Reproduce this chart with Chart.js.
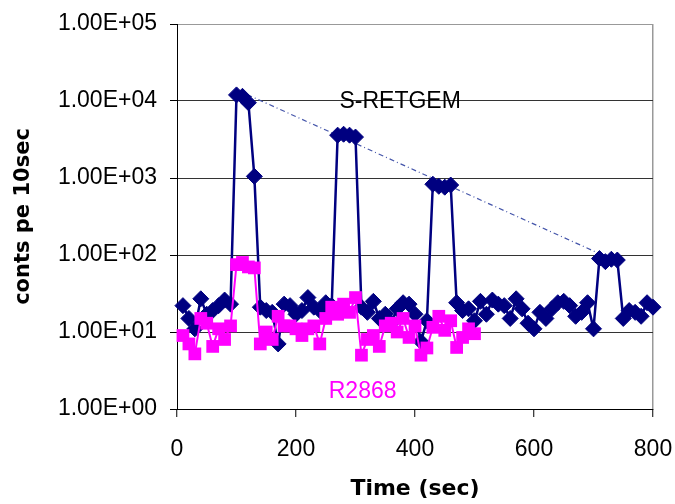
<!DOCTYPE html>
<html><head><meta charset="utf-8">
<script src="https://cdn.jsdelivr.net/npm/chart.js@4/dist/chart.umd.min.js"></script>
<style>html,body{margin:0;padding:0;background:#fff;overflow:hidden}</style>
</head><body>
<canvas id="c" width="675" height="504"></canvas>
<script>
// S-RETGEM: one reading every 10 s, t = 10 .. 800
const retgemTime = [10,20,30,40,50,60,70,80,90,100,110,120,130,140,150,160,170,180,190,200,
  210,220,230,240,250,260,270,280,290,300,310,320,330,340,350,360,370,380,390,400,
  410,420,430,440,450,460,470,480,490,500,510,520,530,540,550,560,570,580,590,600,
  610,620,630,640,650,660,670,680,690,700,710,720,730,740,750,760,770,780,790,800];
const retgemCounts = [22,15,11,27,17,19,22,26,23,12000,
  11500,9500,1050,21,19,18,7,23,22,17,
  19,28,21,19,24,22,3600,3700,3600,3400,
  21,18,25,15,17,13,20,24,23,17,
  7.5,14,830,780,760,810,24,19,20,14,
  25,17,26,23,22,15,27,20,13,11,
  18,15,20,24,25,22,16,18,24,11,
  90,82,88,86,15,19,18,16,24,21];
// R2868: t = 10 .. 500
const r2868Time = [10,20,30,40,50,60,70,80,90,100,110,120,130,140,150,160,170,180,190,200,
  210,220,230,240,250,260,270,280,290,300,310,320,330,340,350,360,370,380,390,400,
  410,420,430,440,450,460,470,480,490,500];
const r2868Counts = [9,7,5.2,15,13,6.5,11,8,12,75,
  80,70,68,7,10,8,16,12,12,11,
  9,11,12,7,15,21,17,23,18,28,
  5,8,9,6.5,12,13,10,15,8.5,12,
  5,6.2,11.5,16,10.5,14,6.3,8.5,11,9.5];
// decay trend line across peak maxima
const trendTime = [100, 715];
const trendCounts = [14000, 100];

const xTicks = [0,200,400,600,800];
const yTickValues = [1,10,100,1000,10000,100000];
const yTickLabels = ['1.00E+00','1.00E+01','1.00E+02','1.00E+03','1.00E+04','1.00E+05'];

const notes = [
  {text:'S-RETGEM', x:375, y:8100, color:'#000000'},
  {text:'R2868', x:312, y:1.39, color:'#FF00FF'}
];

const pts = (xs, ys) => xs.map((x,i)=>({x:x, y:ys[i]}));

const notePlugin = {
  id:'notes',
  afterDatasetsDraw(chart){
    const c = chart.ctx, xs = chart.scales.x, ys = chart.scales.y;
    c.save();
    c.font = '23px "Liberation Sans", Arial, sans-serif';
    c.textAlign = 'center';
    c.textBaseline = 'alphabetic';
    notes.forEach(n=>{
      c.fillStyle = n.color;
      c.fillText(n.text, xs.getPixelForValue(n.x), ys.getPixelForValue(n.y));
    });
    c.restore();
  }
};

new Chart(document.getElementById('c'), {
  type:'line',
  data:{datasets:[
    {label:'R2868', data:pts(r2868Time, r2868Counts), borderColor:'#FF00FF', backgroundColor:'#FF00FF',
     borderWidth:2, pointStyle:'rect', pointRadius:9, pointBorderWidth:0, order:0, clip:false, tension:0},
    {label:'S-RETGEM', data:pts(retgemTime, retgemCounts), borderColor:'#000080', backgroundColor:'#000080',
     borderWidth:2.5, pointStyle:'rectRot', pointRadius:8, pointBorderWidth:1, order:1, clip:false, tension:0},
    {label:'trend', data:pts(trendTime, trendCounts), borderColor:'#4455aa', borderWidth:1.2,
     borderDash:[5,3,1,3], pointRadius:0, order:2, tension:0}
  ]},
  options:{
    responsive:false, animation:false, devicePixelRatio:1, events:[],
    layout:{padding:{top:24,right:22,left:0,bottom:0}},
    plugins:{legend:{display:false}, tooltip:{enabled:false}},
    scales:{
      x:{type:'linear', min:0, max:800,
        afterBuildTicks: s=>{ s.ticks = xTicks.map(v=>({value:v})); },
        ticks:{color:'#000', font:{family:'Liberation Sans', size:23}, padding:19, maxRotation:0, autoSkip:false},
        grid:{color: c=> (c.tick && c.tick.value===800) ? '#999999' : 'rgba(0,0,0,0)', tickColor:'#000', tickLength:8, lineWidth:1.5, tickWidth:1},
        border:{color:'#000', width:1},
        title:{display:true, text:'Time (sec)', color:'#000', font:{family:'DejaVu Sans', size:22, weight:'bold'}, padding:{top:0,bottom:2}},
        afterFit: s=>{ s.height = 95; s.paddingLeft = 0; s.paddingRight = 0; }
      },
      y:{type:'logarithmic', min:1, max:100000,
        afterBuildTicks: s=>{ s.ticks = yTickValues.map(v=>({value:v})); },
        ticks:{color:'#000', font:{family:'Liberation Sans', size:23}, padding:13, autoSkip:false,
          callback:(v,i)=> yTickLabels[yTickValues.indexOf(v)] ?? ''},
        grid:{color: c=> (c.tick && c.tick.value===100000) ? '#999999' : '#333333', tickColor:'#000', tickLength:7, lineWidth:1},
        border:{color:'#000', width:1},
        title:{display:true, text:'conts pe 10sec', color:'#000', font:{family:'DejaVu Sans', size:21, weight:'bold'}, padding:{top:11,bottom:0}},
        afterFit: s=>{ s.width = 177; s.paddingTop = 0; s.paddingBottom = 0; }
      }
    }
  },
  plugins:[notePlugin]
});
</script>
</body></html>
